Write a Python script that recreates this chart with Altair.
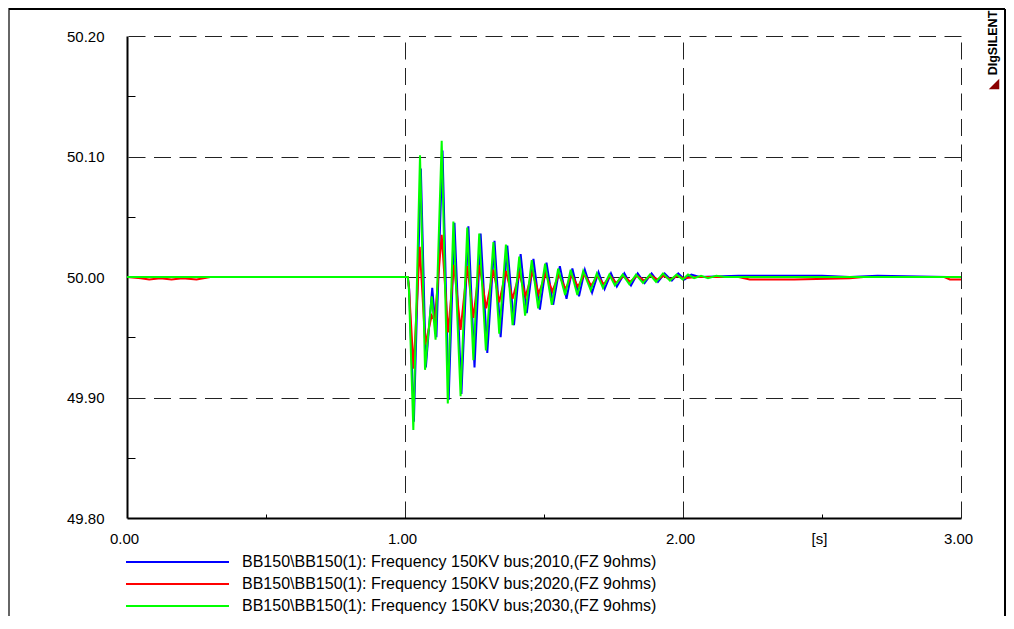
import altair as alt
import pandas as pd

# ---------------- data ----------------
labels = [
    "BB150\\BB150(1): Frequency 150KV bus;2010,(FZ 9ohms)",
    "BB150\\BB150(1): Frequency 150KV bus;2020,(FZ 9ohms)",
    "BB150\\BB150(1): Frequency 150KV bus;2030,(FZ 9ohms)",
]
colors = ["#0000FF", "#FF0000", "#00FF00"]

t_blue = [0.0, 1.010, 1.015, 1.032, 1.057, 1.075, 1.098, 1.113, 1.135, 1.157, 1.178, 1.203,
          1.228, 1.250, 1.272, 1.296, 1.322, 1.344, 1.368, 1.392, 1.416, 1.438, 1.462, 1.485,
          1.509, 1.533, 1.557, 1.581, 1.602, 1.626, 1.647, 1.673, 1.696, 1.718, 1.741, 1.762,
          1.789, 1.813, 1.837, 1.862, 1.887, 1.910, 1.934, 1.960, 1.983, 2.006, 2.030, 2.060,
          2.200, 2.500, 2.600, 2.700, 2.950, 3.000]
f_blue = [50.000, 50.000, 49.990, 49.880, 50.090, 49.925, 49.991, 49.950, 50.105, 49.898, 50.045, 49.903,
          50.042, 49.925, 50.036, 49.937, 50.030, 49.950, 50.026, 49.960, 50.019, 49.970, 50.015, 49.973,
          50.012, 49.977, 50.009, 49.982, 50.007, 49.984, 50.006, 49.987, 50.004, 49.990, 50.003, 49.992,
          50.003, 49.993, 50.003, 49.995, 50.003, 49.996, 50.003, 49.997, 50.003, 49.998, 50.002, 50.000,
          50.001, 50.001, 50.000, 50.001, 50.000, 50.000]

t_red = [0.0, 0.05, 0.08, 0.12, 0.16, 0.20, 0.25, 0.30, 1.010, 1.014, 1.031, 1.053, 1.073, 1.096,
         1.107, 1.132, 1.155, 1.176, 1.200, 1.224, 1.246, 1.268, 1.292, 1.318, 1.339, 1.363, 1.387,
         1.411, 1.434, 1.458, 1.481, 1.506, 1.530, 1.553, 1.578, 1.600, 1.622, 1.645, 1.670, 1.692,
         1.715, 1.738, 1.760, 1.785, 1.810, 1.835, 1.860, 1.885, 1.908, 1.930, 1.955, 1.980, 2.000,
         2.050, 2.200, 2.240, 2.400, 2.600, 2.650, 2.940, 2.960, 3.000]
f_red = [50.000, 49.999, 49.998, 49.999, 49.998, 49.999, 49.998, 50.000, 50.000, 49.992, 49.924, 50.025,
         49.944, 49.968, 49.964, 50.035, 49.954, 50.010, 49.956, 50.009, 49.966, 50.010, 49.974, 50.006,
         49.979, 50.005, 49.982, 50.003, 49.984, 50.004, 49.986, 50.003, 49.988, 50.002, 49.990, 50.002,
         49.992, 50.002, 49.993, 50.001, 49.994, 50.001, 49.995, 50.001, 49.996, 50.001, 49.997, 50.001,
         49.998, 50.001, 49.998, 50.001, 49.999, 50.000, 50.000, 49.998, 49.998, 49.999, 50.000, 50.000,
         49.998, 49.998]

t_green = [0.0, 1.010, 1.014, 1.030, 1.054, 1.072, 1.096, 1.110, 1.132, 1.154, 1.174, 1.200, 1.224,
           1.246, 1.267, 1.291, 1.318, 1.339, 1.363, 1.387, 1.411, 1.432, 1.456, 1.479, 1.504, 1.528,
           1.551, 1.576, 1.596, 1.620, 1.641, 1.668, 1.690, 1.712, 1.735, 1.755, 1.783, 1.807, 1.831,
           1.856, 1.881, 1.903, 1.928, 1.953, 1.977, 1.999, 2.018, 2.040, 2.065, 2.090, 2.120, 2.150,
           3.000]
f_green = [50.000, 50.000, 49.990, 49.873, 50.101, 49.923, 49.984, 49.948, 50.113, 49.895, 50.046, 49.901,
           50.041, 49.931, 50.036, 49.939, 50.029, 49.953, 50.027, 49.960, 50.017, 49.968, 50.014, 49.974,
           50.011, 49.977, 50.007, 49.985, 50.006, 49.985, 50.005, 49.989, 50.003, 49.991, 50.002, 49.993,
           50.002, 49.994, 50.002, 49.995, 50.002, 49.996, 50.003, 49.997, 50.002, 49.998, 50.002, 49.999,
           50.001, 49.999, 50.001, 50.000, 50.000]

x_label_values = [0, 1, 2, 2.5, 3]
y_label_values = [49.8, 49.9, 50.0, 50.1, 50.2]
x_grid_values = [1, 2, 3]
y_grid_values = [49.9, 50.0, 50.1, 50.2]
x_minor_values = [0.5, 1.5, 2.5]
y_minor_values = [49.85, 49.95, 50.05, 50.15]

# ---------------- layout ----------------
W, H = 834, 482
FONT = "Liberation Sans"

def frame(t, f, name):
    assert len(t) == len(f)
    return pd.DataFrame({"t": t, "f": f, "series": name})

df_blue = frame(t_blue, f_blue, labels[0])
df_red = frame(t_red, f_red, labels[1])
df_green = frame(t_green, f_green, labels[2])

xscale = alt.Scale(domain=[0, 3], nice=False, zero=False)
yscale = alt.Scale(domain=[49.8, 50.2], nice=False, zero=False)
cscale = alt.Scale(domain=labels, range=colors)

legend = alt.Legend(
    title=None, orient="none", legendX=-2, legendY=515, direction="vertical",
    symbolType="stroke", symbolSize=10609, symbolStrokeWidth=2,
    labelFont=FONT, labelFontSize=16, labelColor="black", labelLimit=800,
    labelOffset=12, clipHeight=22, rowPadding=0, padding=0,
)

main_x = alt.Axis(orient="bottom", values=x_label_values,
                  labelExpr="datum.value == 2.5 ? '[s]' : format(datum.value, '.2f')",
                  grid=False, ticks=False, tickSize=0, domain=True, domainColor="black",
                  domainWidth=2, labelFont=FONT, labelFontSize=15, labelColor="black",
                  labelPadding=13, labelOffset=-3, labelFlush=False, labelOverlap=False, title=None)
main_y = alt.Axis(orient="left", values=y_label_values, format=".2f",
                  grid=False, ticks=False, tickSize=0, domain=True, domainColor="black",
                  domainWidth=2, labelFont=FONT, labelFontSize=15, labelColor="black",
                  labelPadding=23, labelFlush=False, labelOverlap=False, title=None)
grid_x = alt.Axis(orient="top", values=x_grid_values, grid=True, gridDash=[17, 8.5],
                  gridColor="#222222", gridWidth=1, labels=False, ticks=False, domain=False, title=None)
grid_y = alt.Axis(orient="right", values=y_grid_values, grid=True, gridDash=[17, 8.5],
                  gridColor="#222222", gridWidth=1, labels=False, ticks=False, domain=False, title=None)
tick_x = alt.Axis(orient="top", offset=-H, values=x_minor_values, ticks=True, tickSize=4,
                  tickColor="black", tickWidth=1, labels=False, domain=False, grid=False, title=None)
tick_y = alt.Axis(orient="right", offset=-W, values=y_minor_values, ticks=True, tickSize=8,
                  tickColor="black", tickWidth=1, labels=False, domain=False, grid=False, title=None)


def line_layer(df, ax_x, ax_y):
    return alt.Chart(df).mark_line(strokeWidth=2).encode(
        x=alt.X("t:Q", scale=xscale, axis=ax_x),
        y=alt.Y("f:Q", scale=yscale, axis=ax_y),
        color=alt.Color("series:N", scale=cscale, legend=legend),
    )


blue = line_layer(df_blue, main_x, main_y)
red = line_layer(df_red, grid_x, grid_y)
green = line_layer(df_green, tick_x, tick_y)

one = pd.DataFrame({"k": [0]})
BOTTOM = 98
left_frame = alt.Chart(one).mark_rule(color="#666666", strokeWidth=2).encode(
    x=alt.value(-118), y=alt.value(-28), y2=alt.value(H + BOTTOM))
top_frame = alt.Chart(one).mark_rule(color="black", strokeWidth=2).encode(
    x=alt.value(-118), x2=alt.value(878), y=alt.value(-27))
right_frame = alt.Chart(one).mark_rule(color="black", strokeWidth=2).encode(
    x=alt.value(878), y=alt.value(-27), y2=alt.value(H + BOTTOM))
logo = alt.Chart(one).mark_text(text="DIgSILENT", angle=270, font=FONT, fontSize=12.5,
                                fontWeight="bold", color="black", align="center",
                                baseline="middle").encode(x=alt.value(866), y=alt.value(7))
tri = alt.Chart(one).mark_point(shape="M1,-1L1,1L-1,1Z", filled=True, size=110, color="#8B0000",
                                opacity=1).encode(x=alt.value(867), y=alt.value(48))

chart = alt.layer(blue, red, green, left_frame, top_frame, right_frame, logo, tri).resolve_axis(
    x="independent", y="independent"
).properties(
    width=W, height=H,
    autosize=alt.AutoSizeParams(type="none"),
    padding={"left": 119, "top": 28, "right": 45, "bottom": BOTTOM},
    background="white",
).configure_view(stroke=None)

chart.save("out.html", embed_options={"renderer": "svg", "actions": False})
